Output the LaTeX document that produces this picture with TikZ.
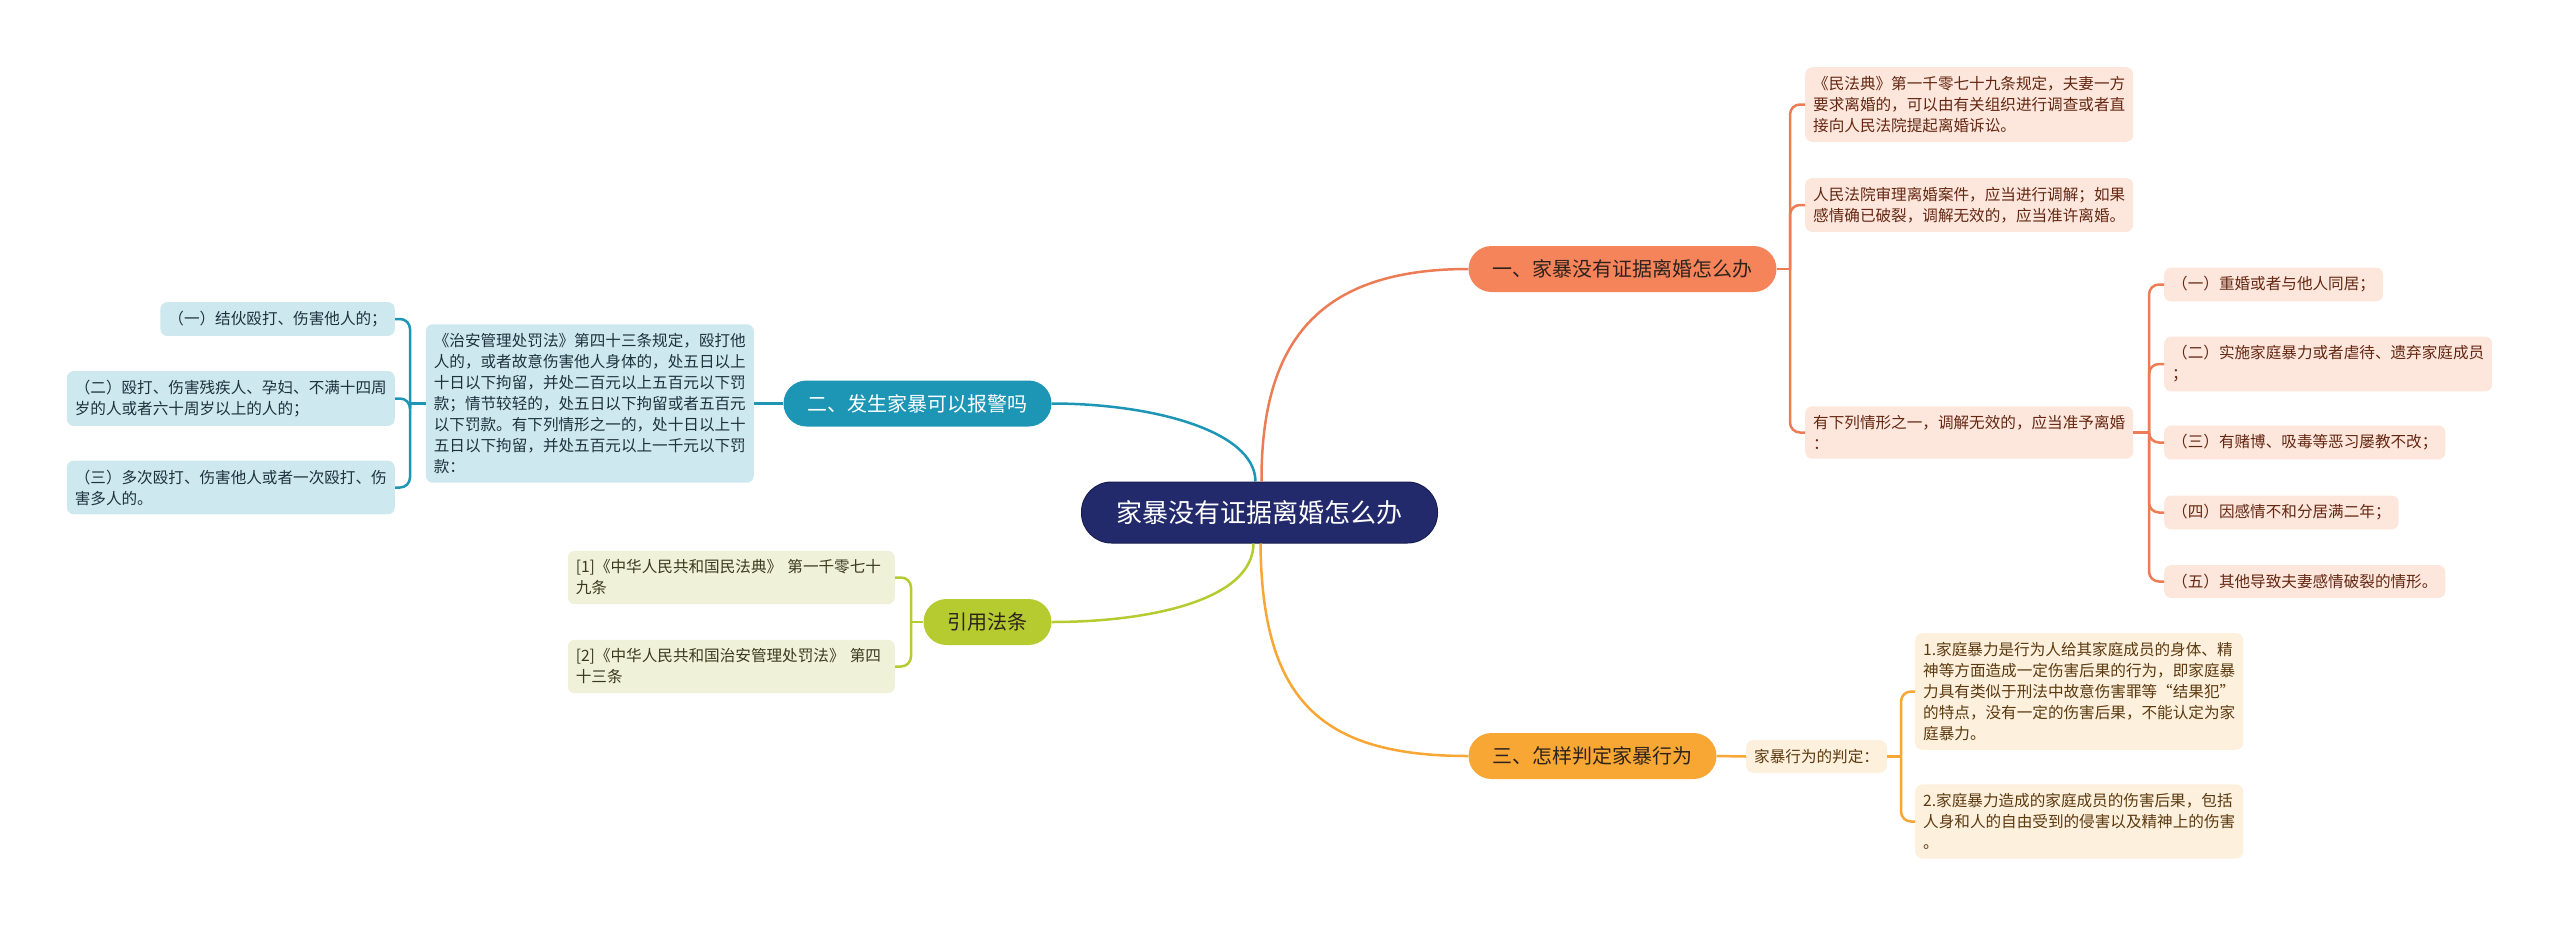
\documentclass[tikz,border=0pt]{standalone}
\usepackage{fontspec}
\usetikzlibrary{calc}
\newfontfamily\cjk{Noto Sans CJK SC}
\definecolor{rootfill}{RGB}{35,42,108}
\definecolor{rootdraw}{RGB}{25,30,80}
\definecolor{coral}{RGB}{246,132,90}
\definecolor{coralline}{RGB}{236,124,86}
\definecolor{pinkfill}{RGB}{253,230,220}
\definecolor{pinktext}{RGB}{100,40,18}
\definecolor{teal}{RGB}{29,150,182}
\definecolor{bluefill}{RGB}{206,232,240}
\definecolor{bluetext}{RGB}{30,50,62}
\definecolor{olive}{RGB}{181,203,48}
\definecolor{olivefill}{RGB}{239,242,217}
\definecolor{olivetext}{RGB}{58,58,32}
\definecolor{amber}{RGB}{248,167,52}
\definecolor{amberfill}{RGB}{253,240,220}
\definecolor{ambertext}{RGB}{92,58,16}
\definecolor{darktext}{RGB}{45,35,30}
\begin{document}
\begin{tikzpicture}[x=1pt,y=-1pt,
  rootbox/.style={fill=rootfill, draw=rootdraw, line width=1pt, rounded corners=30pt,
    minimum height=61pt, inner xsep=35pt, text=white, font=\cjk\fontsize{26}{30}\selectfont},
  branchbox/.style={rounded corners=23pt, minimum height=46pt, inner xsep=24pt,
    font=\cjk\fontsize{20}{24}\selectfont},
  leafbox/.style={rounded corners=7pt, align=left, inner xsep=8pt, inner ysep=9pt,
    font=\cjk\fontsize{15.6}{21}\selectfont},
  pinkbox/.style={leafbox, fill=pinkfill, text=pinktext},
  bluebox/.style={leafbox, fill=bluefill, text=bluetext},
  olivebox/.style={leafbox, fill=olivefill, text=olivetext, text width=311pt},
  amberbox/.style={leafbox, fill=amberfill, text=ambertext},
  link/.style={line width=2.5pt, rounded corners=10pt},
]
\useasboundingbox (0,0) rectangle (2560,927);

% root and main branches
\node[rootbox] (root) at (1259.5,512.5) {家暴没有证据离婚怎么办};
\node[branchbox, fill=coral, text=darktext] (b1) at (1622.5,269) {一、家暴没有证据离婚怎么办};
\node[branchbox, fill=teal, text=white] (b2) at (917.5,403.5) {二、发生家暴可以报警吗};
\node[branchbox, fill=olive, text=darktext] (b3) at (987.5,622) {引用法条};
\node[branchbox, fill=amber, text=darktext] (b4) at (1592.5,756) {三、怎样判定家暴行为};

% branch 1 children
\node[pinkbox, anchor=west] (c1) at (1805,104.5) {《民法典》第一千零七十九条规定，夫妻一方\\要求离婚的，可以由有关组织进行调查或者直\\接向人民法院提起离婚诉讼。};
\node[pinkbox, anchor=west] (c2) at (1805,205) {人民法院审理离婚案件，应当进行调解；如果\\感情确已破裂，调解无效的，应当准许离婚。};
\node[pinkbox, anchor=west] (c3) at (1805,432.5) {有下列情形之一，调解无效的，应当准予离婚\\：};
\node[pinkbox, anchor=west] (d1) at (2164,284.5) {（一）重婚或者与他人同居；};
\node[pinkbox, anchor=west] (d2) at (2164,364) {（二）实施家庭暴力或者虐待、遗弃家庭成员\\；};
\node[pinkbox, anchor=west] (d3) at (2164,442.5) {（三）有赌博、吸毒等恶习屡教不改；};
\node[pinkbox, anchor=west] (d4) at (2164,512.5) {（四）因感情不和分居满二年；};
\node[pinkbox, anchor=west] (d5) at (2164,581.5) {（五）其他导致夫妻感情破裂的情形。};

% branch 2 children
\node[bluebox, anchor=east] (big) at (754,403.5) {《治安管理处罚法》第四十三条规定，殴打他\\人的，或者故意伤害他人身体的，处五日以上\\十日以下拘留，并处二百元以上五百元以下罚\\款；情节较轻的，处五日以下拘留或者五百元\\以下罚款。有下列情形之一的，处十日以上十\\五日以下拘留，并处五百元以上一千元以下罚\\款：};
\node[bluebox, anchor=east] (e1) at (395,319) {（一）结伙殴打、伤害他人的；};
\node[bluebox, anchor=east] (e2) at (395,398.5) {（二）殴打、伤害残疾人、孕妇、不满十四周\\岁的人或者六十周岁以上的人的；};
\node[bluebox, anchor=east] (e3) at (395,487.5) {（三）多次殴打、伤害他人或者一次殴打、伤\\害多人的。};

% branch 3 children
\node[olivebox, anchor=east] (f1) at (895,577.5) {[1]《中华人民共和国民法典》 第一千零七十\\九条};
\node[olivebox, anchor=east] (f2) at (895,666.5) {[2]《中华人民共和国治安管理处罚法》 第四\\十三条};

% branch 4 children
\node[amberbox, anchor=west] (g0) at (1746,756.5) {家暴行为的判定：};
\node[amberbox, anchor=west] (g1) at (1915,691.5) {1.家庭暴力是行为人给其家庭成员的身体、精\\神等方面造成一定伤害后果的行为，即家庭暴\\力具有类似于刑法中故意伤害罪等“结果犯”\\的特点，没有一定的伤害后果，不能认定为家\\庭暴力。};
\node[amberbox, anchor=west] (g2) at (1915,821.5) {2.家庭暴力造成的家庭成员的伤害后果，包括\\人身和人的自由受到的侵害以及精神上的伤害\\。};

% root connectors
\draw[link, coralline] ($(root.north)+(2,0)$) .. controls (1261,340) and (1320,269) .. (b1.west);
\draw[link, teal] ($(root.north)+(-4,0)$) .. controls (1255,430) and (1150,403.5) .. (b2.east);
\draw[link, olive] ($(root.south)+(-6,0)$) .. controls (1253,600) and (1150,622) .. (b3.east);
\draw[link, amber] ($(root.south)+(1,0)$) .. controls (1262,700) and (1320,756) .. (b4.west);

% branch 1 brackets
\coordinate (k1) at (1790,269);
\draw[link, coralline] (b1.east) -- (k1);
\draw[link, coralline] (k1) |- (c1.west);
\draw[link, coralline] (k1) |- (c2.west);
\draw[link, coralline] (k1) |- (c3.west);
\coordinate (k2) at (2149,432.5);
\draw[link, coralline] (c3.east) -- (k2);
\draw[link, coralline] (k2) |- (d1.west);
\draw[link, coralline] (k2) |- (d2.west);
\draw[link, coralline] (k2) |- (d3.west);
\draw[link, coralline] (k2) |- (d4.west);
\draw[link, coralline] (k2) |- (d5.west);

% branch 2 brackets
\draw[link, teal] (b2.west) -- (big.east);
\coordinate (k3) at (410,403.5);
\draw[link, teal] (big.west) -- (k3);
\draw[link, teal] (k3) |- (e1.east);
\draw[link, teal] (k3) |- (e2.east);
\draw[link, teal] (k3) |- (e3.east);

% branch 3 brackets
\coordinate (k4) at (911,622);
\draw[link, olive] (b3.west) -- (k4);
\draw[link, olive] (k4) |- (f1.east);
\draw[link, olive] (k4) |- (f2.east);

% branch 4 brackets
\draw[link, amber] (b4.east) -- (g0.west);
\coordinate (k5) at (1901,756.5);
\draw[link, amber] (g0.east) -- (k5);
\draw[link, amber] (k5) |- (g1.west);
\draw[link, amber] (k5) |- (g2.west);
\end{tikzpicture}
\end{document}
